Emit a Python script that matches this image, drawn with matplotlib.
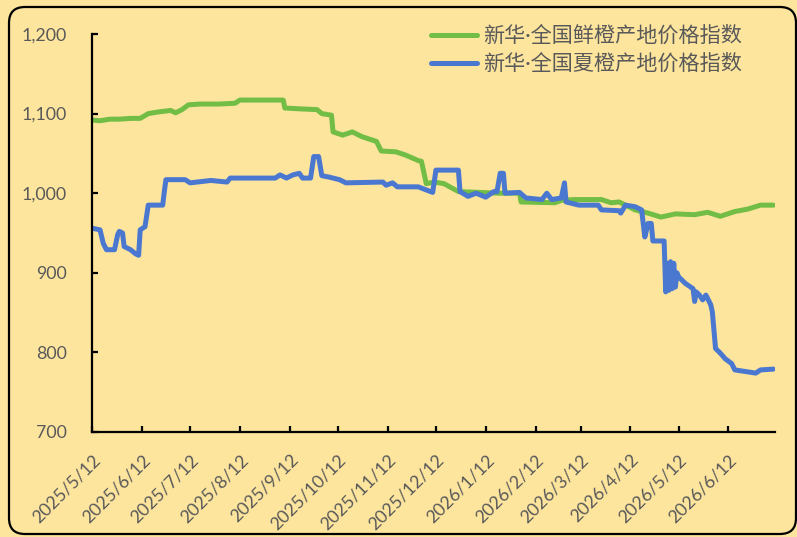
import matplotlib
matplotlib.use("Agg")
import matplotlib.pyplot as plt
import matplotlib.ticker as mticker
from matplotlib.patches import FancyBboxPatch
from matplotlib.transforms import IdentityTransform
import pandas as pd

plt.rcParams['font.family'] = ['Lato', 'Noto Sans CJK SC', 'DejaVu Sans']

# ---------------- data ----------------
fresh_dates = ["2025-05-12", "2025-05-17", "2025-05-23", "2025-05-29", "2025-06-05", "2025-06-11",
               "2025-06-16", "2025-06-22", "2025-06-26", "2025-06-30", "2025-07-03", "2025-07-07",
               "2025-07-11", "2025-07-18", "2025-07-30", "2025-08-09", "2025-08-12", "2025-09-08",
               "2025-09-09", "2025-09-18", "2025-09-29", "2025-10-02", "2025-10-08", "2025-10-09",
               "2025-10-15", "2025-10-21", "2025-10-27", "2025-11-05", "2025-11-08", "2025-11-17",
               "2025-11-23", "2025-12-01", "2025-12-03", "2025-12-06", "2025-12-11", "2025-12-17",
               "2025-12-26", "2026-01-08", "2026-01-20", "2026-02-02", "2026-02-03", "2026-02-24",
               "2026-02-28", "2026-03-08", "2026-03-25", "2026-03-31", "2026-04-05", "2026-04-15",
               "2026-04-23", "2026-05-01", "2026-05-10", "2026-05-22", "2026-05-30", "2026-06-07",
               "2026-06-16", "2026-06-24", "2026-07-02", "2026-07-10"]
fresh_values = [1092, 1091, 1093, 1093, 1094, 1094,
                1100, 1102, 1103, 1104, 1101, 1105,
                1111, 1112, 1112, 1113, 1117, 1117,
                1107, 1106, 1105, 1100, 1098, 1077,
                1073, 1077, 1071, 1065, 1053, 1052,
                1048, 1041, 1040, 1012, 1014, 1012,
                1002, 1001, 1000, 1000, 989, 988,
                991, 992, 992, 988, 989, 979,
                975, 970, 974, 973, 976, 971,
                977, 980, 985, 985]

summer_dates = ["2025-05-12", "2025-05-17", "2025-05-19", "2025-05-21", "2025-05-26", "2025-05-28",
                "2025-05-29", "2025-05-31", "2025-06-01", "2025-06-05", "2025-06-08", "2025-06-10",
                "2025-06-11", "2025-06-14", "2025-06-16", "2025-06-25", "2025-06-26", "2025-06-27",
                "2025-07-09", "2025-07-12", "2025-07-25", "2025-08-04", "2025-08-06", "2025-09-03",
                "2025-09-06", "2025-09-10", "2025-09-14", "2025-09-18", "2025-09-20", "2025-09-25",
                "2025-09-27", "2025-09-30", "2025-10-02", "2025-10-07", "2025-10-13", "2025-10-17",
                "2025-11-09", "2025-11-11", "2025-11-15", "2025-11-18", "2025-12-01", "2025-12-10",
                "2025-12-12", "2025-12-26", "2025-12-27", "2026-01-01", "2026-01-06", "2026-01-12",
                "2026-01-17", "2026-01-19", "2026-01-21", "2026-01-23", "2026-01-24", "2026-02-02",
                "2026-02-06", "2026-02-16", "2026-02-19", "2026-02-22", "2026-02-28", "2026-03-02",
                "2026-03-03", "2026-03-11", "2026-03-23", "2026-03-25", "2026-04-05", "2026-04-06",
                "2026-04-09", "2026-04-15", "2026-04-19", "2026-04-21", "2026-04-23", "2026-04-25",
                "2026-04-26", "2026-05-03", "2026-05-04", "2026-05-05", "2026-05-06", "2026-05-07",
                "2026-05-08", "2026-05-09", "2026-05-10", "2026-05-11", "2026-05-12", "2026-05-16",
                "2026-05-21", "2026-05-22", "2026-05-23", "2026-05-25", "2026-05-27", "2026-05-29",
                "2026-06-01", "2026-06-02", "2026-06-04", "2026-06-07", "2026-06-10", "2026-06-14",
                "2026-06-16", "2026-06-29", "2026-07-02", "2026-07-10"]
summer_values = [956, 954, 937, 929, 929, 948,
                 952, 950, 933, 929, 924, 922,
                 954, 958, 985, 985, 1002, 1017,
                 1017, 1013, 1016, 1014, 1019, 1019,
                 1023, 1019, 1023, 1025, 1019, 1019,
                 1046, 1046, 1022, 1020, 1017, 1013,
                 1014, 1010, 1013, 1008, 1008, 1001,
                 1029, 1029, 1002, 996, 1000, 995,
                 1002, 1002, 1025, 1025, 1000, 1001,
                 994, 992, 1000, 992, 994, 1013,
                 989, 985, 985, 979, 978, 975,
                 985, 983, 979, 945, 962, 962,
                 940, 940, 876, 912, 878, 914,
                 880, 912, 882, 900, 895, 887,
                 880, 864, 876, 872, 866, 872,
                 860, 851, 805, 799, 792, 786,
                 778, 774, 778, 779]

series_names = ["新华·全国鲜橙产地价格指数", "新华·全国夏橙产地价格指数"]
x_tick_labels = ["2025/5/12", "2025/6/12", "2025/7/12", "2025/8/12", "2025/9/12", "2025/10/12",
                 "2025/11/12", "2025/12/12", "2026/1/12", "2026/2/12", "2026/3/12", "2026/4/12",
                 "2026/5/12", "2026/6/12"]
y_ticks = [700, 800, 900, 1000, 1100, 1200]

# ---------------- style ----------------
BG = '#FDE59E'
GREEN = '#71BD45'
BLUE = '#4A78D0'
TXT = '#595959'
LW = 3.6

fig = plt.figure(figsize=(7.97, 5.37), dpi=100, facecolor=BG)
ax = fig.add_axes([92/797, 1-432/537, (775-92)/797, (432-34)/537])
ax.set_facecolor(BG)

ax.plot(pd.to_datetime(fresh_dates), fresh_values, color=GREEN, lw=LW,
        solid_joinstyle='round', solid_capstyle='round', label=series_names[0])
ax.plot(pd.to_datetime(summer_dates), summer_values, color=BLUE, lw=LW,
        solid_joinstyle='round', solid_capstyle='round', label=series_names[1])

ax.set_ylim(700, 1200)
ax.set_yticks(y_ticks)
ax.yaxis.set_major_formatter(mticker.FuncFormatter(lambda v, p: f"{int(v):,}"))

tick_dates = pd.to_datetime([s.replace('/', '-') for s in x_tick_labels])
ax.set_xticks(tick_dates)
ax.set_xticklabels(x_tick_labels)
ax.set_xlim(pd.Timestamp("2025-05-12"), pd.Timestamp("2026-07-11"))

for s in ['top', 'right']:
    ax.spines[s].set_visible(False)
for s in ['left', 'bottom']:
    ax.spines[s].set_linewidth(1.6)
    ax.spines[s].set_color('black')

ax.tick_params(axis='both', direction='in', length=4.5, width=1.6, colors='black',
               labelcolor=TXT, labelsize=12.8)
ax.tick_params(axis='y', pad=18)
ax.tick_params(axis='x', pad=14)
for lbl in ax.get_xticklabels():
    lbl.set_rotation(45)
    lbl.set_ha('right')
    lbl.set_va('top')
    lbl.set_rotation_mode('anchor')

leg = fig.legend(loc='upper left', bbox_to_anchor=(431/797, 1-26/537), frameon=False,
                 prop={'family': ['Lato', 'Noto Sans CJK SC', 'DejaVu Sans'], 'size': 15.2},
                 labelcolor=TXT, handlelength=2.2, handletextpad=0.25, labelspacing=0.36,
                 borderpad=0, borderaxespad=0)

border = FancyBboxPatch((9, 3), 787, 527, boxstyle="round,pad=0,rounding_size=16",
                        transform=IdentityTransform(), fill=False, edgecolor='black',
                        linewidth=1.6, zorder=10)
fig.patches.append(border)

fig.savefig("out.png", dpi=100, facecolor=BG)
